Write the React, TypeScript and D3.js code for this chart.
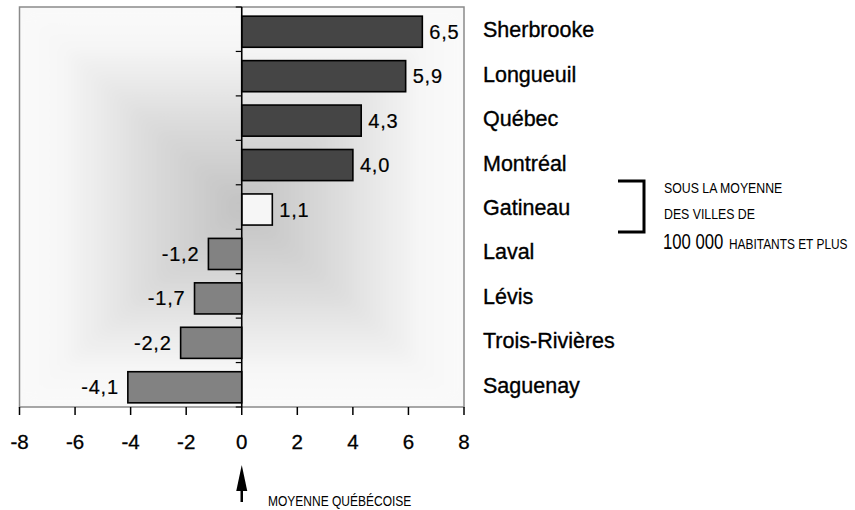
import React from 'react';
import * as d3 from 'd3';

const cities = ['Sherbrooke', 'Longueuil', 'Québec', 'Montréal', 'Gatineau', 'Laval', 'Lévis', 'Trois-Rivières', 'Saguenay'];
const values = [6.5, 5.9, 4.3, 4.0, 1.1, -1.2, -1.7, -2.2, -4.1];
const xTicks = [-8, -6, -4, -2, 0, 2, 4, 6, 8];
const noteLines = ['SOUS LA MOYENNE', 'DES VILLES DE'];
const noteLast = ['100 000', 'HABITANTS ET PLUS'];
const axisNote = 'MOYENNE QUÉBÉCOISE';

const W = 855;
const H = 510;
const plot = { left: 19.5, right: 464, top: 7, bottom: 407 };
const barShift = 2.5;
const fmt = (v: number) => v.toFixed(1).replace('.', ',');

function fillFor(v: number, name: string) {
  if (name === 'Gatineau') return '#f6f6f6';
  return v > 0 ? '#454545' : '#828282';
}

export default function App() {
  const x = d3.scaleLinear().domain([-8, 8]).range([plot.left, plot.right]);
  const y = d3.scaleBand<string>().domain(cities).range([plot.top, plot.bottom]).paddingInner(0.3).paddingOuter(0.15);
  const band = d3.scaleBand<string>().domain(cities).range([plot.top, plot.bottom]);

  const cx = (plot.left + plot.right) / 2;
  const cy = (plot.top + plot.bottom) / 2;
  const { left: L, right: R, top: T, bottom: B } = plot;
  // rectangular "from centre" gradient built from four wedges
  const wedges = [
    { id: 'gT', pts: [[L, T], [R, T], [cx, cy]], g: [cx, T, cx, cy] },
    { id: 'gB', pts: [[L, B], [R, B], [cx, cy]], g: [cx, B, cx, cy] },
    { id: 'gL', pts: [[L, T], [L, B], [cx, cy]], g: [L, cy, cx, cy] },
    { id: 'gR', pts: [[R, T], [R, B], [cx, cy]], g: [R, cy, cx, cy] },
  ];
  const zero = x(0);

  return (
    <svg width={W} height={H} style={{ position: 'absolute', left: 0, top: 0, fontFamily: 'Arial, "Liberation Sans", sans-serif' }}>
      <defs>
        {wedges.map((w) => (
          <linearGradient key={w.id} id={w.id} gradientUnits="userSpaceOnUse" x1={w.g[0]} y1={w.g[1]} x2={w.g[2]} y2={w.g[3]}>
            <stop offset="0" stopColor="#fafafa" />
            <stop offset="0.18" stopColor="#f7f7f7" />
            <stop offset="0.6" stopColor="#dadada" />
            <stop offset="1" stopColor="#c2c2c2" />
          </linearGradient>
        ))}
        <filter id="soft" x="-5%" y="-5%" width="110%" height="110%">
          <feGaussianBlur stdDeviation="7" />
        </filter>
        <clipPath id="plotClip">
          <rect x={L} y={T} width={R - L} height={B - T} />
        </clipPath>
      </defs>
      <rect width={W} height={H} fill="#fff" />
      <g clipPath="url(#plotClip)">
        <rect x={L} y={T} width={R - L} height={B - T} fill="#f8f8f8" />
        <g filter="url(#soft)">
          {wedges.map((w) => (
            <polygon key={w.id} points={w.pts.map((p) => p.join(',')).join(' ')} fill={`url(#${w.id})`} stroke={`url(#${w.id})`} strokeWidth={1} />
          ))}
        </g>
      </g>
      <rect x={L} y={T} width={R - L} height={B - T} fill="none" stroke="#8a8a8a" strokeWidth={1.5} />

      {/* bars */}
      {cities.map((c, i) => {
        const v = values[i];
        const x0 = x(Math.min(0, v));
        const x1 = x(Math.max(0, v));
        const yy = (y(c) as number) + barShift;
        const h = y.bandwidth();
        const mid = yy + h / 2;
        return (
          <g key={c}>
            <rect x={x0} y={yy} width={x1 - x0} height={h} fill={fillFor(v, c)} stroke="#000" strokeWidth={1.6} />
            <text
              x={v > 0 ? x1 + 7 : x0 - 9}
              y={mid + 7}
              textAnchor={v > 0 ? 'start' : 'end'}
              fontSize={20}
              letterSpacing={0.8}
              fill="#000"
              stroke="#000"
              strokeWidth={0.2}
            >
              {fmt(v)}
            </text>
          </g>
        );
      })}

      {/* y axis at zero */}
      <line x1={zero} x2={zero} y1={T} y2={B} stroke="#000" strokeWidth={1.6} />
      {cities.concat(['']).map((c, i) => {
        const yy = i < cities.length ? (band(c) as number) : B;
        return <line key={'t' + i} x1={zero - 6} x2={zero} y1={yy} y2={yy} stroke="#000" strokeWidth={1.2} />;
      })}

      {/* category labels */}
      {cities.map((c) => (
        <text key={'l' + c} x={483} y={(band(c) as number) + band.bandwidth() / 2 + 8} fontSize={21.5} fill="#000" stroke="#000" strokeWidth={0.35}>
          {c}
        </text>
      ))}

      {/* x axis */}
      {xTicks.map((t) => (
        <g key={'x' + t}>
          <line x1={x(t)} x2={x(t)} y1={B} y2={B + 8} stroke="#000" strokeWidth={1.5} />
          <text x={x(t)} y={449} textAnchor="middle" fontSize={20.5} fill="#000" stroke="#000" strokeWidth={0.3}>
            {t}
          </text>
        </g>
      ))}

      {/* arrow to zero */}
      <line x1={zero} x2={zero} y1={480} y2={502} stroke="#000" strokeWidth={2.5} />
      <path d={`M${zero},465 L${zero - 5.5},491 L${zero + 5.5},491 Z`} fill="#000" />
      <text transform={`translate(268,506) scale(0.8,1)`} fontSize={15} fill="#000">
        {axisNote}
      </text>

      {/* bracket note */}
      <path d="M618,181 L644,181 L644,232 L618,232" fill="none" stroke="#000" strokeWidth={3} />
      <text transform={`translate(664,193) scale(0.88,1)`} fontSize={14} fill="#000">
        {noteLines[0]}
      </text>
      <text transform={`translate(664,219) scale(0.88,1)`} fontSize={14} fill="#000">
        {noteLines[1]}
      </text>
      <text transform={`translate(663,249) scale(0.76,1)`} fontSize={22} fill="#000">
        {noteLast[0]}
      </text>
      <text transform={`translate(729,249) scale(0.85,1)`} fontSize={14} fill="#000">
        {noteLast[1]}
      </text>
    </svg>
  );
}
